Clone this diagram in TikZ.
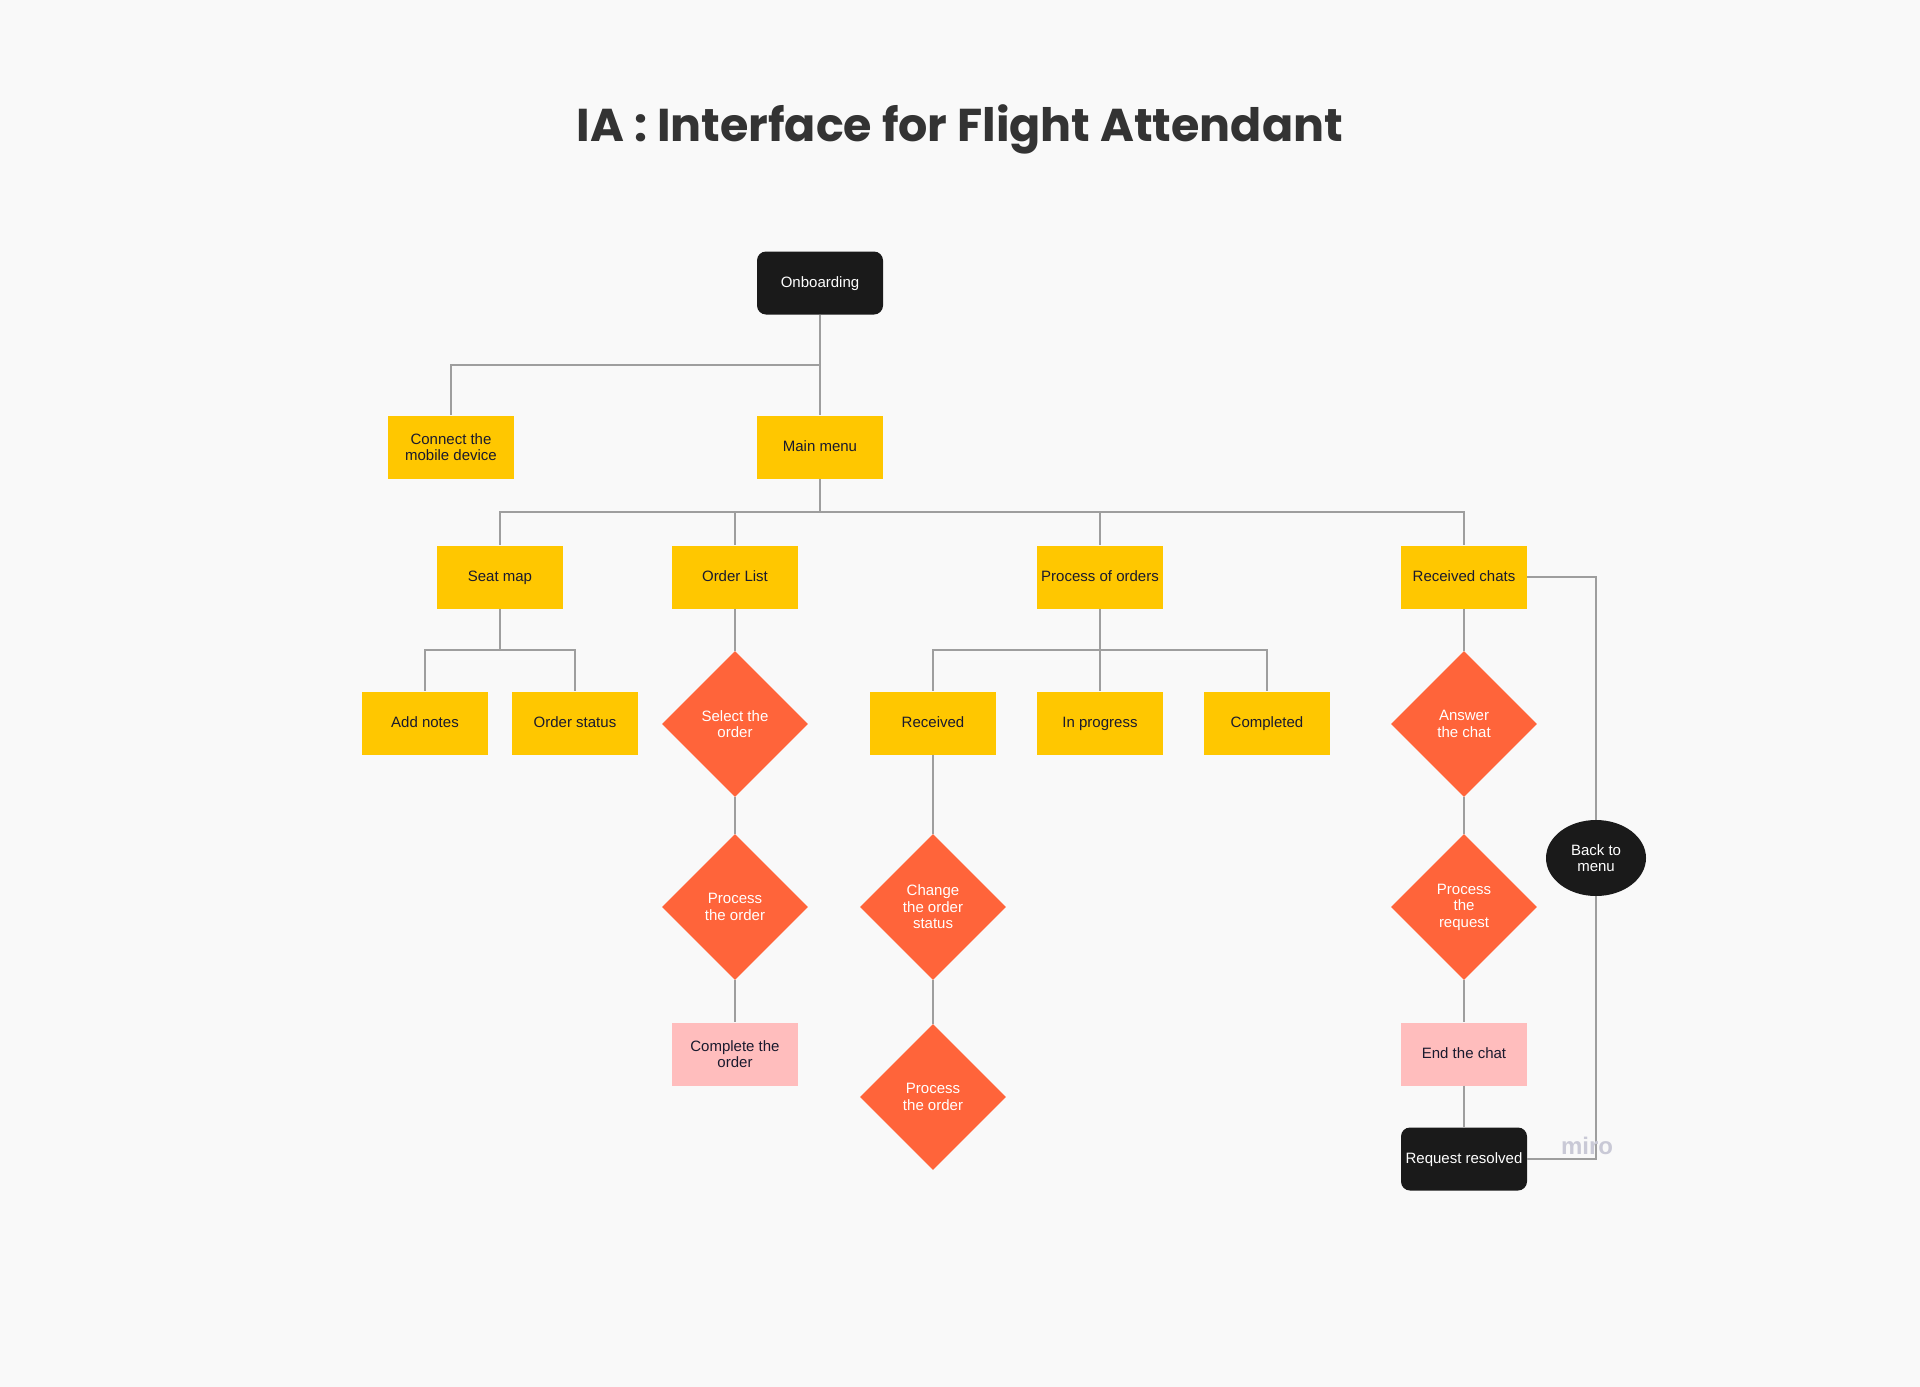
\documentclass[tikz,border=0pt]{standalone}
\usepackage{fontspec}
\setmainfont{Liberation Sans}
\newfontfamily\titlefont{Poppins}
\usetikzlibrary{shapes.geometric}
\definecolor{bgcol}{HTML}{F9F9F9}
\definecolor{boxyellow}{HTML}{FFC700}
\definecolor{boxorange}{HTML}{FF643A}
\definecolor{boxpink}{HTML}{FFBDBD}
\definecolor{boxblack}{HTML}{1A1A1A}
\definecolor{inkdark}{HTML}{1A1A2E}
\definecolor{linegray}{HTML}{9E9E9E}
\definecolor{titlegray}{HTML}{333333}
\definecolor{mirogray}{HTML}{C9C9D6}

\begin{document}
\begin{tikzpicture}[x=1pt,y=-1pt,
    box/.style={rectangle,fill=boxyellow,text=inkdark,minimum width=126pt,minimum height=63pt,
                inner sep=2pt,align=center,font=\fontsize{15}{16.5}\selectfont},
    oneline/.style={text height=11pt,text depth=3pt},
    pinkbox/.style={box,fill=boxpink},
    darkbox/.style={box,fill=boxblack,text=white,rounded corners=9pt},
    decision/.style={diamond,fill=boxorange,text=white,minimum width=146pt,minimum height=146pt,
                inner sep=0pt,align=center,font=\fontsize{15}{16.5}\selectfont},
    backnode/.style={ellipse,fill=boxblack,text=white,minimum width=100pt,minimum height=76pt,
                inner sep=0pt,align=center,font=\fontsize{15}{16.5}\selectfont},
    link/.style={draw=linegray,line width=1.5pt}]
    % Background
    \fill[bgcol] (0,0) rectangle (1920,1387);
    \useasboundingbox (0,0) rectangle (1920,1387);

    % Title
    \node[text=titlegray] (title) at (960,129) {\titlefont\bfseries\fontsize{46}{50}\selectfont IA : Interface for Flight Attendant};

    % Top levels
    \node[darkbox,oneline] (onb) at (820,283) {Onboarding};
    \node[box] (connect) at (451,447) {Connect the\\mobile device};
    \node[box,oneline] (main) at (820,447) {Main menu};

    % Menu entries
    \foreach \n/\x/\t in {seat/500/Seat map, olist/735/Order List, porders/1100/Process of orders, chats/1464/Received chats}
        \node[box,oneline] (\n) at (\x,577) {\t};

    % Third row
    \foreach \n/\x/\t in {notes/425/Add notes, ostatus/575/Order status, received/933/Received,
                          inprog/1100/In progress, completed/1267/Completed}
        \node[box,oneline] (\n) at (\x,723) {\t};
    \node[decision] (select) at (735,724) {Select the\\order};
    \node[decision] (answer) at (1464,724) {Answer\\the chat};

    % Fourth row
    \node[decision] (procA) at (735,907) {Process\\the order};
    \node[decision] (change) at (933,907) {Change\\the order\\status};
    \node[decision] (request) at (1464,907) {Process\\the\\request};
    \node[backnode] (back) at (1596,858) {Back to\\menu};

    % Last rows
    \node[pinkbox] (complete) at (735,1054) {Complete the\\order};
    \node[decision] (procB) at (933,1097) {Process\\the order};
    \node[pinkbox,oneline] (endchat) at (1464,1054) {End the chat};
    \node[darkbox,oneline] (resolved) at (1464,1159) {Request resolved};

    % Links
    \coordinate (jOnb) at (820,365);
    \draw[link] (onb.south) -- (jOnb) -| (connect.north);
    \draw[link] (jOnb) -- (main.north);

    \coordinate (jMain) at (820,512);
    \draw[link] (main.south) -- (jMain);
    \foreach \n in {seat,olist,porders,chats}
        \draw[link] (jMain) -| (\n.north);

    \coordinate (jSeat) at (500,650);
    \draw[link] (seat.south) -- (jSeat);
    \foreach \n in {notes,ostatus}
        \draw[link] (jSeat) -| (\n.north);

    \coordinate (jProc) at (1100,650);
    \draw[link] (porders.south) -- (jProc);
    \foreach \n in {received,inprog,completed}
        \draw[link] (jProc) -| (\n.north);

    \draw[link] (olist) -- (select) -- (procA) -- (complete);
    \draw[link] (received) -- (change) -- (procB);
    \draw[link] (chats) -- (answer) -- (request) -- (endchat) -- (resolved);
    \draw[link] (chats.east) -| (back.north);
    \draw[link] (back.south) |- (resolved.east);

    % Watermark
    \node[text=mirogray] (miro) at (1587,1146) {\fontsize{24}{24}\selectfont\bfseries miro};
\end{tikzpicture}
\end{document}
